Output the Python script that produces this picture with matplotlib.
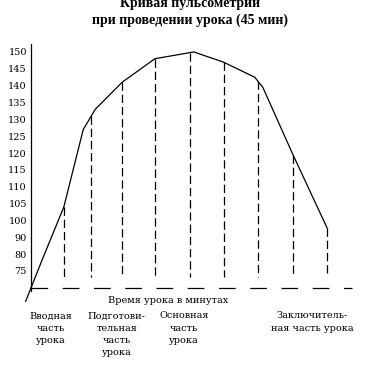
import matplotlib
matplotlib.use('Agg')
import matplotlib.pyplot as plt
import numpy as np

plt.rcParams['lines.scale_dashes'] = False

# pulse scale labels (non-uniform steps, as on the original)
y_labels = [75, 80, 90, 100, 105, 110, 115, 120, 125, 130, 135, 140, 145, 150]
base_pulse = 70

# pulse curve: minutes -> beats per minute
curve_min = [0, 1.6, 4.9, 7.8, 9.6, 13.6, 18.5, 24.3, 28.7, 33.4, 34.6, 39.1, 44.2]
curve_pulse = [70, 78, 104, 127, 133, 141, 148, 151, 147, 142.5, 139.5, 119.5, 95.5]

# moments where the pulse was measured (dashed verticals)
mark_min = [4.9, 9.0, 13.6, 18.5, 23.7, 28.8, 33.9, 39.1, 44.2]

phase_labels = ['Вводная\nчасть\nурока',
                'Подготови-\nтельная\nчасть\nурока',
                'Основная\nчасть\nурока',
                'Заключитель-\nная часть урока']
phase_min = [3.0, 12.8, 22.8, 42.0]

W, H = 377, 380
fig = plt.figure(figsize=(W / 100, H / 100), dpi=100)

# axes placed in pixels so the picture lines up with the reference
L, R, B, T = 31, 360, 305, 40
ax = fig.add_axes([L / W, 1 - B / H, (R - L) / W, (B - T) / H])
ax.set_xlim(0, (R - L) / 6.7)
ax.set_ylim((271 - B) / 16.85, (271 - T) / 16.85)
for s in ax.spines.values():
    s.set_visible(False)

levels = np.arange(len(y_labels))


def to_pos(p):
    return np.interp(p, [base_pulse] + y_labels, np.r_[-1, levels])


ax.set_yticks(levels, [str(v) for v in y_labels])
ax.tick_params(axis='y', length=0, pad=3, labelsize=7)
for t in ax.get_yticklabels():
    t.set_family('DejaVu Serif')
ax.set_xticks([])

lw = 0.9
# y axis
ax.plot([0, 0], [-1.2, 13.47], color='black', lw=lw, clip_on=False)
# dashed time axis
ax.plot([0, 47.9], [-1, -1], color='black', lw=lw, linestyle=(0, (12, 10.5)),
        clip_on=False)

# pulse curve with the short lead-in below the origin
cx = np.array(curve_min)
cy = to_pos(np.array(curve_pulse, dtype=float))
slope = (cy[1] - cy[0]) / (cx[1] - cx[0])
ax.plot([-0.8, 0], [cy[0] - 0.8 * slope, cy[0]], color='black', lw=lw, clip_on=False)
ax.plot(cx, cy, color='black', lw=lw, clip_on=False)

# dashed verticals from the curve down to the time axis
for m in mark_min:
    top = np.interp(m, cx, cy)
    ax.plot([m, m], [top, -0.36], color='black', lw=lw,
            linestyle=(0, (6, 2.8)))

ax.text(20.5, -1.75, 'Время урока в минутах', ha='center', va='center',
        fontsize=7, family='DejaVu Serif')
for lab, m in zip(phase_labels, phase_min):
    ax.text(m, -2.4, lab, ha='center', va='top', fontsize=7,
            family='DejaVu Serif', linespacing=1.45, clip_on=False)

fig.text(190 / W, 1 - 4 / H, 'Кривая пульсометрии', ha='center', va='center',
         fontsize=10, fontweight='bold', family='Liberation Serif')
fig.text(190 / W, 1 - 20 / H, 'при проведении урока (45 мин)', ha='center',
         va='center', fontsize=10, fontweight='bold', family='Liberation Serif')

fig.savefig('out.png', dpi=100)
